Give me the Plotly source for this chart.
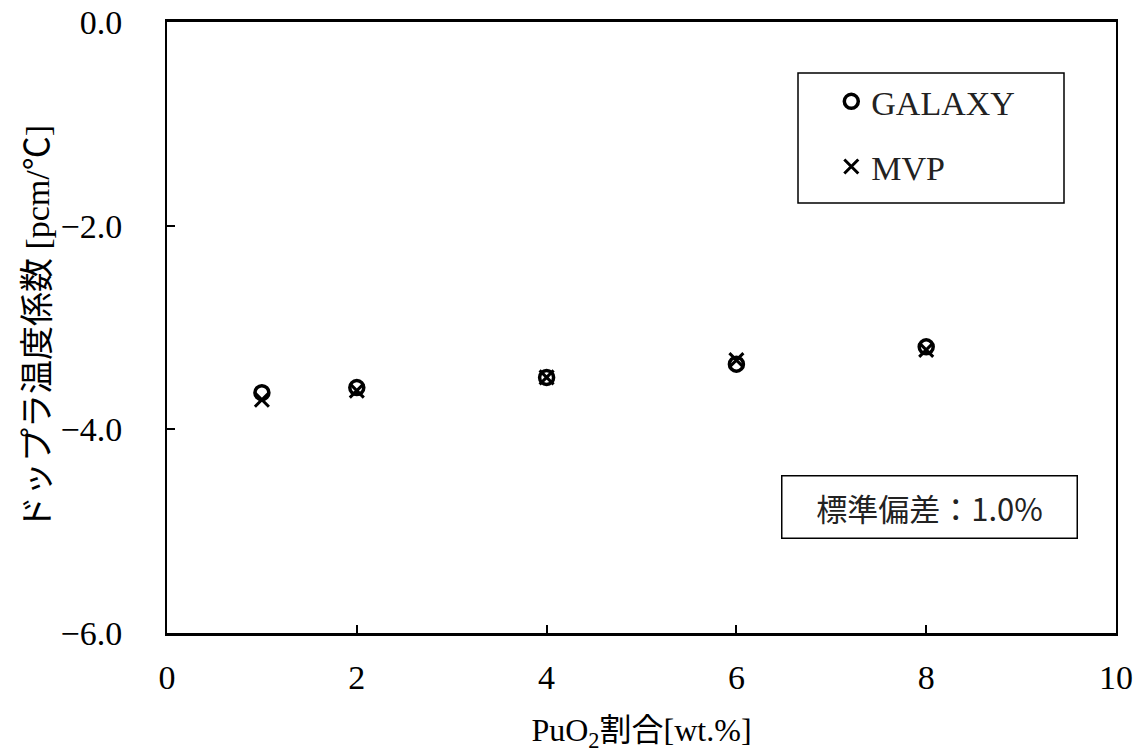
import plotly.graph_objects as go

pu_wt = [1, 2, 4, 6, 8]
galaxy = [-3.64, -3.59, -3.49, -3.36, -3.19]
mvp = [-3.71, -3.62, -3.49, -3.32, -3.22]

x_ticks = [0, 2, 4, 6, 8, 10]
y_ticks = [0.0, -2.0, -4.0, -6.0]

FONT = "Liberation Serif, Noto Sans CJK JP, serif"
CJK = "Noto Sans CJK JP, sans-serif"

fig = go.Figure()
fig.add_trace(go.Scatter(
    x=pu_wt, y=galaxy, mode="markers", name="GALAXY", legendgroup="g",
    marker=dict(symbol="circle-open", size=14, color="black", line=dict(width=3.5, color="black")),
))
fig.add_trace(go.Scatter(
    x=pu_wt, y=mvp, mode="markers", name="MVP", legendgroup="m",
    marker=dict(symbol="x-thin-open", size=14, color="black", line=dict(width=3, color="black")),
))

fig.update_layout(
    width=1142, height=753,
    margin=dict(l=167, r=26, t=22, b=120),
    plot_bgcolor="white", paper_bgcolor="white",
    font=dict(family=FONT, size=24, color="black"),
    showlegend=True,
    legend=dict(
        x=0.700, y=0.917, xanchor="left", yanchor="top",
        borderwidth=0, bgcolor="rgba(0,0,0,0)",
        font=dict(family=FONT, size=34, color="#222"),
        tracegroupgap=18, itemwidth=30,
    ),
    shapes=[dict(
        type="rect", xref="paper", yref="paper",
        x0=(798 - 167) / 949, x1=(1064 - 167) / 949,
        y0=(633 - 203) / 611, y1=(633 - 73) / 611,
        line=dict(color="black", width=1.5), fillcolor="rgba(0,0,0,0)",
    )],
    annotations=[dict(
        xref="paper", yref="paper", x=(929 - 167) / 949, y=(633 - 507) / 611,
        xanchor="center", yanchor="middle", showarrow=False,
        text="標準偏差：1.0%", width=278, align="center",
        font=dict(family=CJK, size=31, color="#222"),
        bordercolor="black", borderwidth=1.5, borderpad=8, bgcolor="white",
    )],
)

fig.update_xaxes(
    range=[0, 10], tickvals=x_ticks, ticktext=[str(v) for v in x_ticks],
    ticks="inside", ticklen=8, tickwidth=1.5, tickcolor="black",
    showline=True, linewidth=2.5, linecolor="black", mirror=True,
    showgrid=False, zeroline=False, ticklabelstandoff=12, automargin=False,
    ticklabeloverflow="allow",
    tickfont=dict(family=FONT, size=34),
    title=dict(text="PuO<sub>2</sub>割合[wt.%]", font=dict(family=FONT, size=32), standoff=44),
)
fig.update_yaxes(
    range=[-6, 0], tickvals=y_ticks, ticktext=[f"{v:.1f}".replace("-", "\u2212") for v in y_ticks],
    ticks="inside", ticklen=8, tickwidth=1.5, tickcolor="black",
    showline=True, linewidth=2, linecolor="black", mirror=True,
    showgrid=False, zeroline=False, ticklabelstandoff=36, automargin=False,
    ticklabeloverflow="allow",
    tickfont=dict(family=FONT, size=34),
    title=dict(text="ドップラ温度係数 [pcm/℃]", font=dict(family=FONT, size=34), standoff=1),
)

fig.write_html(
    "out.html",
    config={"displayModeBar": False},
    post_script="document.body.style.margin='0px';",
)
